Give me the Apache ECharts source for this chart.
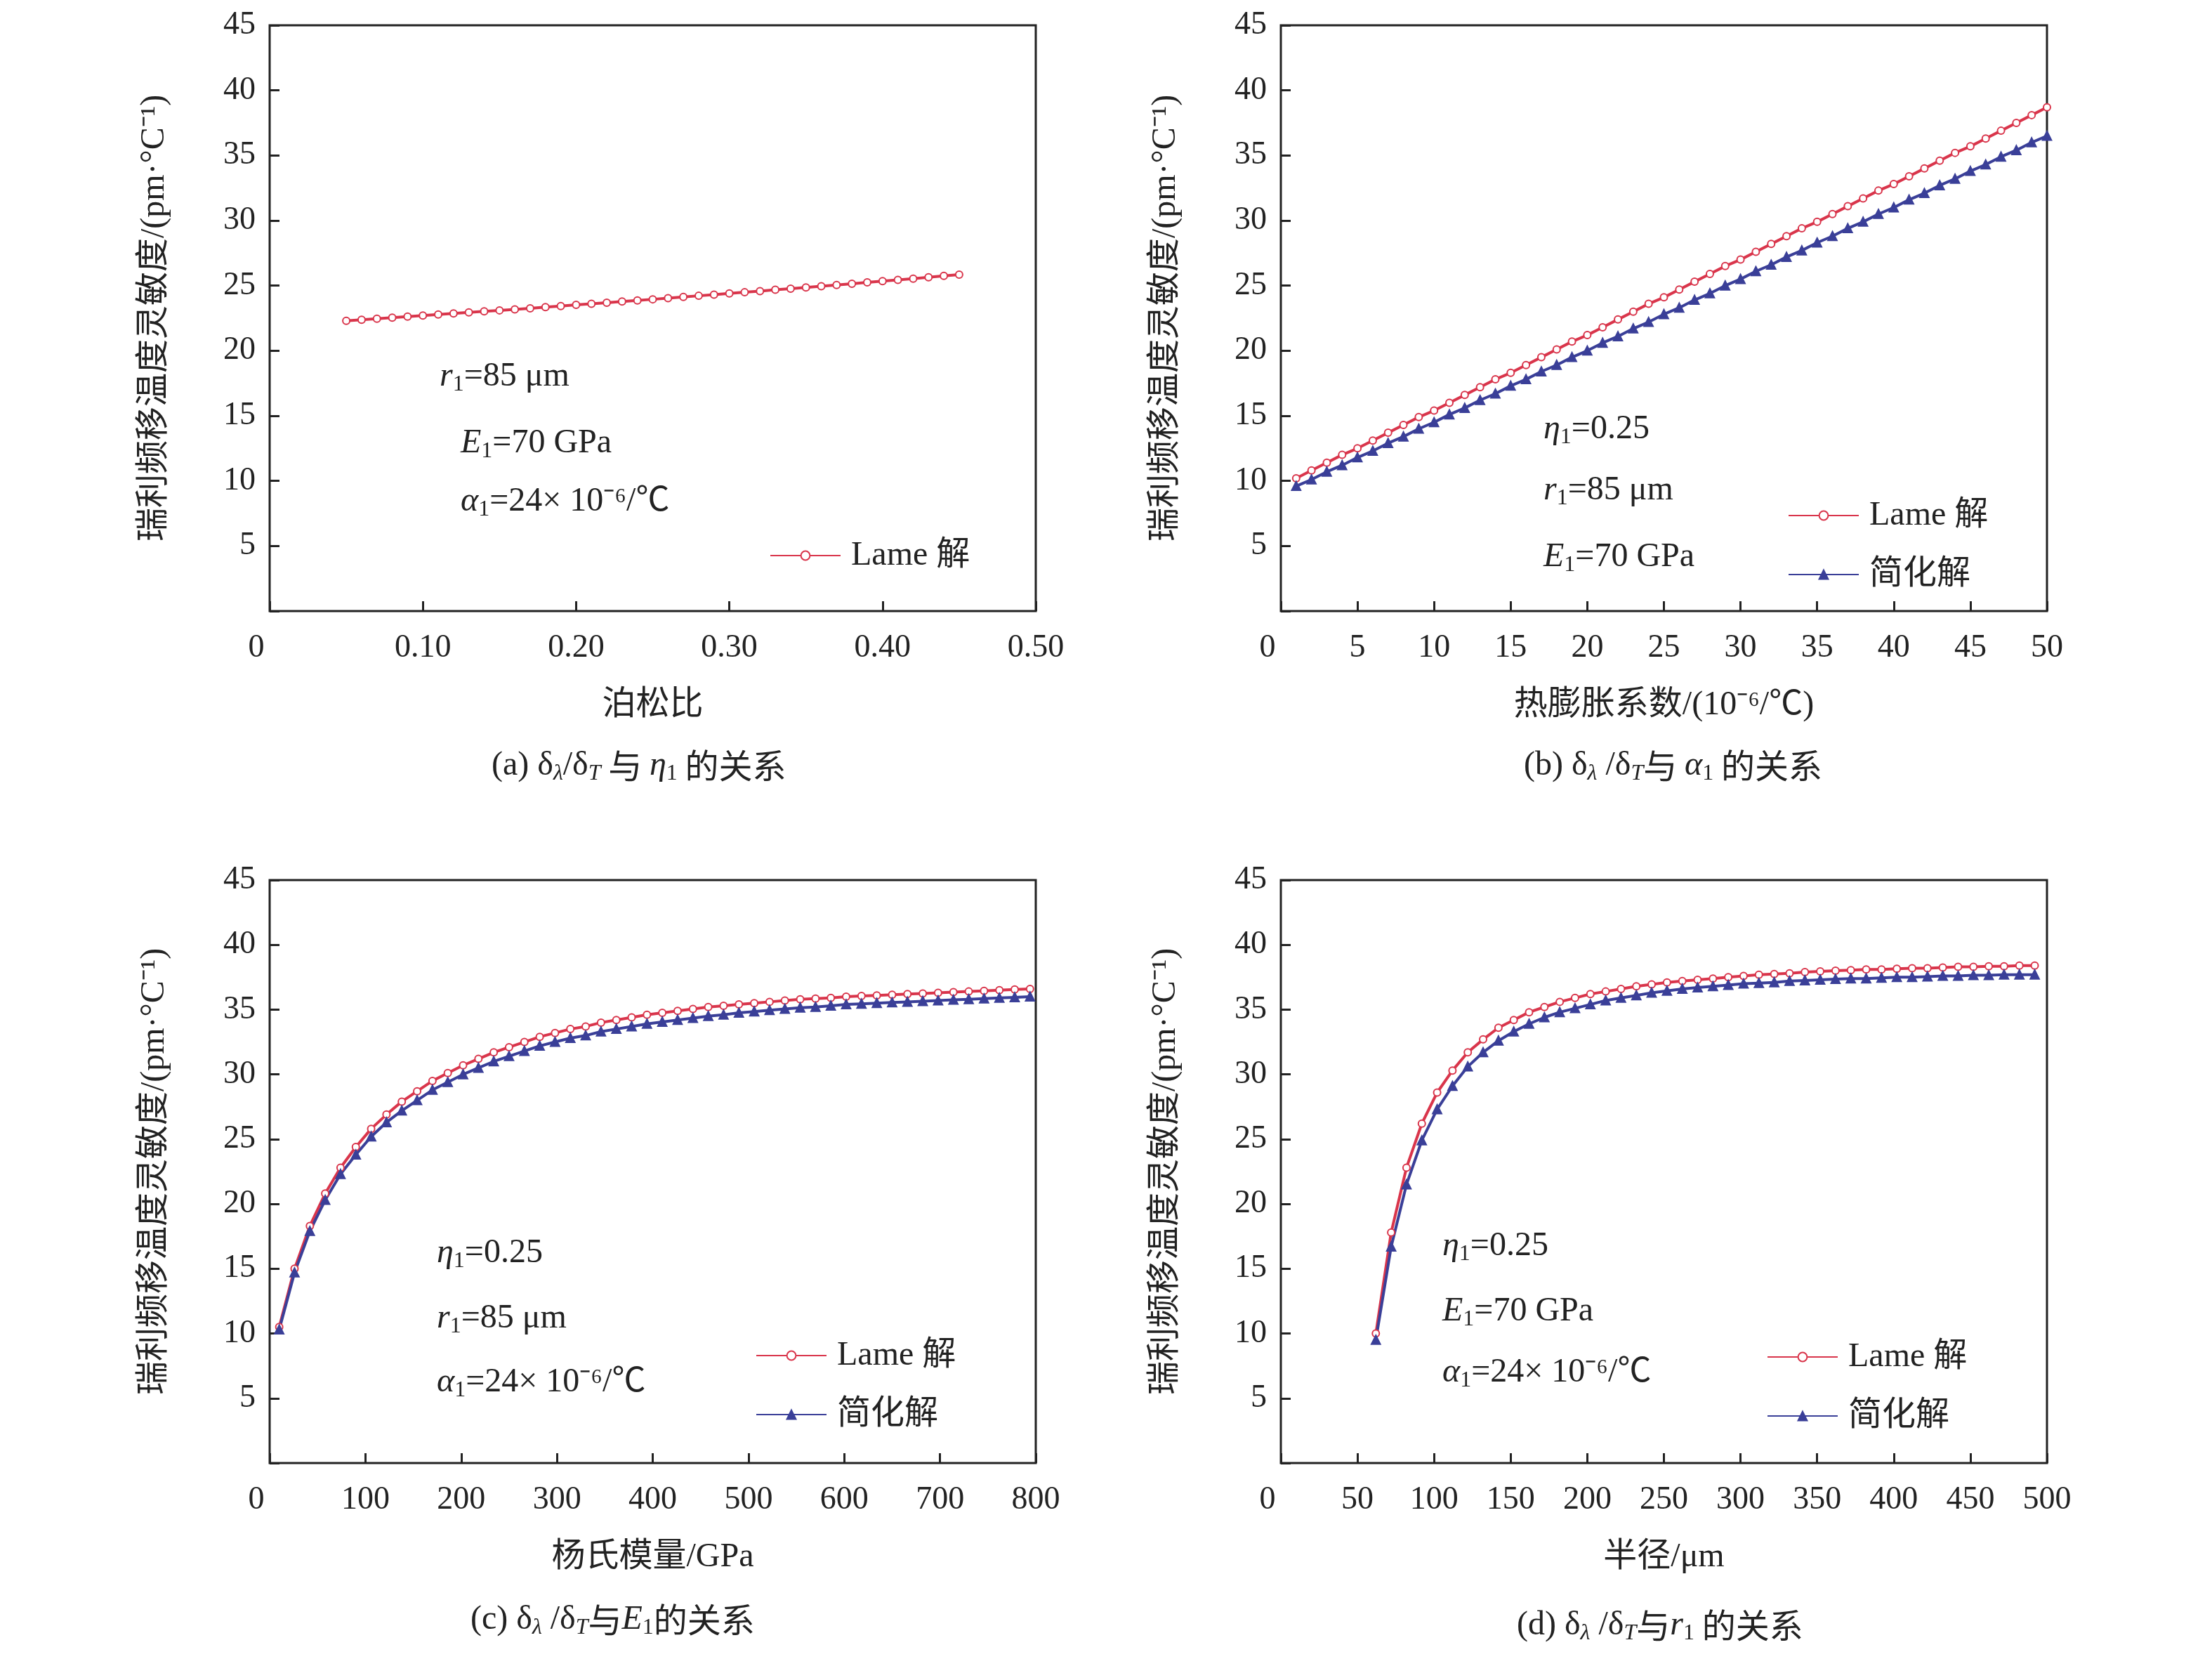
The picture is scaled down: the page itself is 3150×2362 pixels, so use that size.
<!DOCTYPE html>
<html>
<head>
<meta charset="utf-8">
<script src="https://cdn.jsdelivr.net/npm/echarts@6/dist/echarts.min.js"></script>
<style>html,body{margin:0;padding:0;background:#fff}#main{width:3150px;height:2362px}</style>
</head>
<body>
<div id="main"></div>
<script>
// (a) poisson ratio
var xA = [];
for (var k = 0; k <= 40; k++) xA.push(+(0.05 + k * 0.01).toFixed(2));
var lameA = [22.30,22.38,22.46,22.54,22.62,22.70,22.78,22.86,22.94,23.02,23.10,23.18,23.26,23.35,23.43,23.52,23.60,23.69,23.78,23.86,23.95,24.04,24.13,24.22,24.31,24.40,24.49,24.58,24.68,24.77,24.86,24.96,25.05,25.15,25.25,25.34,25.44,25.54,25.64,25.75,25.85];
// (b) thermal expansion
var xB = [];
for (var k = 1; k <= 50; k++) xB.push(k);
var lameB = [10.2,10.8,11.4,12.0,12.5,13.1,13.7,14.3,14.9,15.4,16.0,16.6,17.2,17.8,18.3,18.9,19.5,20.1,20.7,21.2,21.8,22.4,23.0,23.6,24.1,24.7,25.3,25.9,26.5,27.0,27.6,28.2,28.8,29.4,29.9,30.5,31.1,31.7,32.3,32.8,33.4,34.0,34.6,35.2,35.7,36.3,36.9,37.5,38.1,38.7];
var simpB = [9.6,10.1,10.7,11.2,11.8,12.3,12.9,13.4,14.0,14.5,15.1,15.6,16.2,16.7,17.3,17.8,18.4,18.9,19.5,20.0,20.6,21.1,21.7,22.2,22.8,23.3,23.9,24.4,25.0,25.5,26.1,26.6,27.2,27.7,28.3,28.8,29.4,29.9,30.5,31.0,31.6,32.1,32.7,33.2,33.8,34.3,34.9,35.4,36.0,36.5];
// (c) young's modulus
var xC = [];
for (var k = 0; k < 50; k++) xC.push(10 + k * 16);
var lameC = [10.5,15.0,18.3,20.8,22.8,24.4,25.8,26.9,27.9,28.7,29.5,30.1,30.7,31.2,31.7,32.1,32.5,32.9,33.2,33.5,33.7,34.0,34.2,34.4,34.6,34.75,34.9,35.05,35.2,35.3,35.4,35.5,35.6,35.7,35.8,35.85,35.9,36.0,36.05,36.1,36.15,36.2,36.25,36.3,36.35,36.4,36.45,36.5,36.55,36.6];
var simpC = [10.3,14.7,17.9,20.3,22.3,23.8,25.2,26.3,27.2,28.0,28.8,29.4,30.0,30.5,31.0,31.4,31.8,32.2,32.5,32.8,33.0,33.3,33.5,33.7,33.9,34.05,34.2,34.35,34.5,34.6,34.75,34.85,34.95,35.05,35.15,35.2,35.3,35.4,35.45,35.5,35.55,35.6,35.65,35.7,35.75,35.8,35.85,35.9,35.95,36.0];
// (d) radius
var xD = [];
for (var k = 0; k < 44; k++) xD.push(62 + k * 10);
var lameD = [10.0,17.8,22.8,26.2,28.6,30.3,31.7,32.7,33.6,34.2,34.8,35.2,35.6,35.9,36.2,36.4,36.6,36.8,36.95,37.1,37.2,37.3,37.4,37.5,37.6,37.7,37.75,37.8,37.9,37.95,38.0,38.05,38.1,38.1,38.15,38.2,38.2,38.25,38.3,38.3,38.35,38.35,38.4,38.4];
var simpD = [9.5,16.7,21.5,24.9,27.3,29.1,30.6,31.7,32.6,33.3,33.9,34.4,34.8,35.1,35.4,35.7,35.9,36.1,36.3,36.45,36.6,36.7,36.8,36.9,37.0,37.05,37.1,37.2,37.25,37.3,37.35,37.4,37.4,37.45,37.5,37.5,37.55,37.6,37.6,37.65,37.65,37.7,37.7,37.7];

var RED = '#d9354b', BLUE = '#3a3f98';
var SERIF = '"Liberation Serif","Noto Sans CJK SC",serif';
var yName = '瑞利频移温度灵敏度/(pm·°C⁻¹)';

function pairs(x, y) {
	var out = [];
	for (var i = 0; i < y.length && i < x.length; i++) out.push([x[i], y[i]]);
	return out;
}

var grids = [
	{left: 384, top: 36, width: 1091, height: 834},
	{left: 1824, top: 36, width: 1091, height: 834},
	{left: 384, top: 1253, width: 1091, height: 830},
	{left: 1824, top: 1253, width: 1091, height: 830}
];
var xCfg = [
	{max: 0.5, interval: 0.1, name: '泊松比', fmt: function (v) { return v === 0 ? '{z|0}' : v.toFixed(2); }},
	{max: 50, interval: 5, name: '热膨胀系数/(10⁻⁶/℃)', fmt: function (v) { return v === 0 ? '{z|0}' : v; }},
	{max: 800, interval: 100, name: '杨氏模量/GPa', fmt: function (v) { return v === 0 ? '{z|0}' : v; }},
	{max: 500, interval: 50, name: '半径/μm', fmt: function (v) { return v === 0 ? '{z|0}' : v; }}
];

var option = {
	backgroundColor: '#fff',
	animation: false,
	textStyle: {fontFamily: SERIF, color: '#222'},
	grid: grids.map(function (g) {
		return Object.assign({show: true, borderColor: '#222', borderWidth: 3, backgroundColor: 'transparent'}, g);
	}),
	xAxis: xCfg.map(function (c, i) {
		return {
			type: 'value', gridIndex: i, min: 0, max: c.max, interval: c.interval,
			name: c.name, nameLocation: 'middle', nameGap: 110,
			nameTextStyle: {fontSize: 48, fontFamily: SERIF, color: '#222'},
			axisLine: {show: false},
			axisTick: {inside: true, length: 14, lineStyle: {color: '#222', width: 3}},
			axisLabel: {fontSize: 46, margin: 30, color: '#222', fontFamily: SERIF, formatter: c.fmt,
				rich: {z: {fontSize: 46, fontFamily: SERIF, color: '#222', padding: [0, 38, 0, 0]}}},
			splitLine: {show: false}
		};
	}),
	yAxis: grids.map(function (g, i) {
		return {
			type: 'value', gridIndex: i, min: 0, max: 45, interval: 5,
			name: yName, nameLocation: 'middle', nameGap: 140,
			nameTextStyle: {fontSize: 48, fontFamily: SERIF, color: '#222'},
			axisLine: {show: false},
			axisTick: {inside: true, length: 14, lineStyle: {color: '#222', width: 3}},
			axisLabel: {fontSize: 46, margin: 20, color: '#222', fontFamily: SERIF,
				formatter: function (v) { return v === 0 ? '' : v; }},
			splitLine: {show: false}
		};
	}),
	legend: [
		{left: 1091, top: 762, data: ['Lame 解a']},
		{left: 2541, top: 705, data: ['Lame 解b', '简化解b']},
		{left: 1071, top: 1901, data: ['Lame 解c', '简化解c']},
		{left: 2511, top: 1903, data: ['Lame 解d', '简化解d']}
	].map(function (l) {
		return Object.assign({orient: 'vertical', itemWidth: 100, itemHeight: 16, itemGap: 36,
			textStyle: {fontSize: 48, fontFamily: SERIF, color: '#222', padding: [0, 0, 0, 10]},
			formatter: function (n) { return n.slice(0, -1); }}, l);
	}),
	series: [],
	graphic: []
};

function addSeries(name, idx, x, y, color, symbol) {
	option.series.push({
		name: name, type: 'line', xAxisIndex: idx, yAxisIndex: idx,
		data: pairs(x, y), symbol: symbol, symbolSize: symbol === 'triangle' ? 11 : 10,
		showAllSymbol: true,
		lineStyle: {color: color, width: 4},
		itemStyle: {color: color, borderColor: color, borderWidth: 3}
	});
}
addSeries('Lame 解a', 0, xA, lameA, RED, 'emptyCircle');
addSeries('Lame 解b', 1, xB, lameB, RED, 'emptyCircle');
addSeries('简化解b', 1, xB, simpB, BLUE, 'triangle');
addSeries('Lame 解c', 2, xC, lameC, RED, 'emptyCircle');
addSeries('简化解c', 2, xC, simpC, BLUE, 'triangle');
addSeries('Lame 解d', 3, xD, lameD, RED, 'emptyCircle');
addSeries('简化解d', 3, xD, simpD, BLUE, 'triangle');

var rich = {
	n: {fontSize: 48, fontFamily: SERIF, color: '#222'},
	i: {fontSize: 48, fontFamily: SERIF, fontStyle: 'italic', color: '#222'},
	s: {fontSize: 32, fontFamily: SERIF, color: '#222', padding: [24, 0, 0, 0]},
	si: {fontSize: 32, fontFamily: SERIF, fontStyle: 'italic', color: '#222', padding: [24, 0, 0, 0]},
	c: {fontSize: 48, fontFamily: '"Noto Sans CJK SC",sans-serif', color: '#222'}
};
function label(x, y, text) {
	option.graphic.push({type: 'text', left: x, top: y,
		style: {text: text, rich: rich, fill: '#222'}});
}
var tR = '{i|r}{s|1}{n|=85 μm}';
var tE = '{i|E}{s|1}{n|=70 GPa}';
var tA = '{i|α}{s|1}{n|=24× 10⁻⁶/℃}';
var tEta = '{i|η}{s|1}{n|=0.25}';
label(626, 512, tR); label(656, 607, tE); label(656, 690, tA);
label(2198, 587, tEta); label(2198, 674, tR); label(2198, 769, tE);
label(622, 1760, tEta); label(622, 1853, tR); label(622, 1944, tA);
label(2054, 1750, tEta); label(2054, 1843, tE); label(2054, 1930, tA);

function caption(cx, y, text) {
	option.graphic.push({type: 'text', left: cx, top: y,
		style: {text: text, rich: rich, fill: '#222', align: 'center'}});
}
caption(700, 1066, '{n|(a) δ}{si|λ}{n|/δ}{si|T}{c| 与 }{i|η}{s|1}{c| 的关系}');
caption(2170, 1066, '{n|(b) δ}{si|λ}{n| /δ}{si|T}{c|与 }{i|α}{s|1}{c| 的关系}');
caption(670, 2282, '{n|(c) δ}{si|λ}{n| /δ}{si|T}{c|与}{i|E}{s|1}{c|的关系}');
caption(2160, 2290, '{n|(d) δ}{si|λ}{n| /δ}{si|T}{c|与}{i|r}{s|1}{c| 的关系}');

var chart = echarts.init(document.getElementById('main'));
chart.setOption(option);
</script>
</body>
</html>
